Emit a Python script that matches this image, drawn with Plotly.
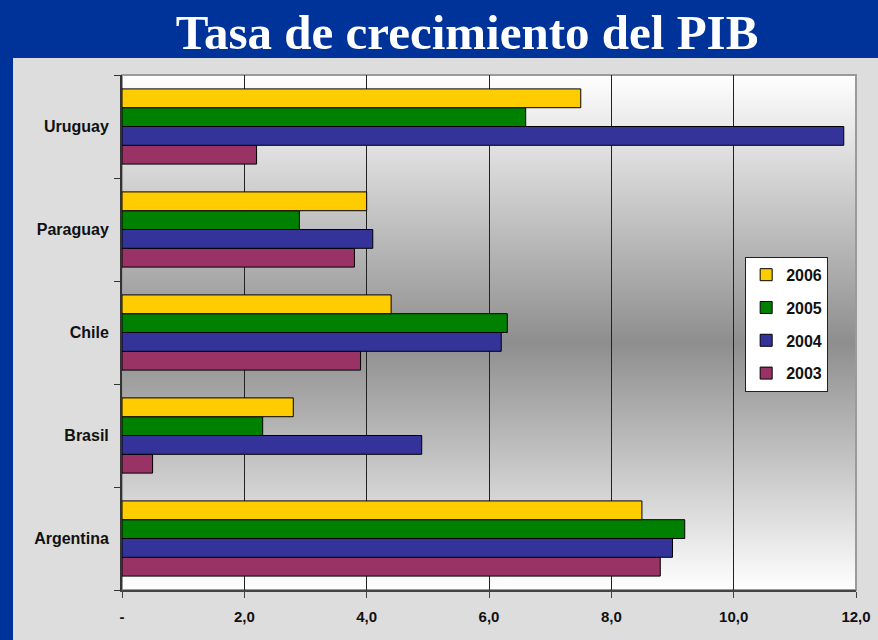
import base64
import plotly.graph_objects as go

# data
countries = ["Argentina", "Brasil", "Chile", "Paraguay", "Uruguay"]
years = ["2003", "2004", "2005", "2006"]
pib_2003 = [8.8, 0.5, 3.9, 3.8, 2.2]
pib_2004 = [9.0, 4.9, 6.2, 4.1, 11.8]
pib_2005 = [9.2, 2.3, 6.3, 2.9, 6.6]
pib_2006 = [8.5, 2.8, 4.4, 4.0, 7.5]
x_tickvals = [0, 2, 4, 6, 8, 10, 12]
x_ticktext = ["-", "2,0", "4,0", "6,0", "8,0", "10,0", "12,0"]

series = [pib_2003, pib_2004, pib_2005, pib_2006]
colors = ["#993366", "#333399", "#008000", "#FFCC00"]

fig = go.Figure()
for i, (year, vals, col) in enumerate(zip(years, series, colors)):
    fig.add_trace(go.Bar(
        y=countries, x=vals, name=year, orientation="h",
        legendgroup=year, legendrank=10 - i,
        marker=dict(color=col, line=dict(color="black", width=1)),
    ))

# vertical grey gradient behind the bars
svg = (
    '<svg xmlns="http://www.w3.org/2000/svg" width="100" height="100" preserveAspectRatio="none">'
    '<defs><linearGradient id="g" x1="0" y1="0" x2="0" y2="1">'
    '<stop offset="0" stop-color="#ffffff"/>'
    '<stop offset="0.52" stop-color="#8e8e8e"/>'
    '<stop offset="1" stop-color="#ffffff"/>'
    '</linearGradient></defs>'
    '<rect width="100" height="100" fill="url(#g)"/></svg>'
)
svg_uri = "data:image/svg+xml;base64," + base64.b64encode(svg.encode()).decode()
fig.add_layout_image(dict(
    source=svg_uri, xref="paper", yref="paper", x=0, y=1,
    sizex=1, sizey=1, xanchor="left", yanchor="top",
    sizing="stretch", layer="below",
))

blue = "#003399"
# blue frame on top and left of the slide
fig.add_shape(type="rect", xref="paper", yref="paper",
              x0=-0.2, x1=1.1, y0=1.033, y1=1.3,
              fillcolor=blue, line_width=0, layer="below")
fig.add_shape(type="rect", xref="paper", yref="paper",
              x0=-0.2, x1=-0.1485, y0=-0.2, y1=1.3,
              fillcolor=blue, line_width=0, layer="below")
# grey border round the plot area
fig.add_shape(type="rect", xref="paper", yref="paper",
              x0=0, x1=1, y0=0, y1=1,
              line=dict(color="#9a9a9a", width=2), layer="below")

fig.update_layout(
    width=878, height=640,
    margin=dict(l=122, r=22, t=75, b=50),
    paper_bgcolor="#dddddd",
    plot_bgcolor="rgba(0,0,0,0)",
    barmode="group",
    bargap=0.27,
    bargroupgap=0,
    title=dict(
        text="<b>Tasa de crecimiento del PIB</b>",
        x=0.532, xanchor="center", xref="container",
        y=0.95, yanchor="middle", yref="container",
        font=dict(family="Liberation Serif, Times New Roman, serif", size=49, color="white"),
    ),
    font=dict(family="Liberation Sans, Arial, sans-serif", color="#111111"),
    legend=dict(
        x=0.849, y=0.647, xanchor="left", yanchor="top",
        bgcolor="white", bordercolor="#222222", borderwidth=1,
        traceorder="grouped", tracegroupgap=9,
        font=dict(size=16, family="Liberation Sans, Arial, sans-serif", color="#111111", weight="bold"),
    ),
    showlegend=True,
)

fig.update_xaxes(
    range=[0, 12], tickvals=x_tickvals, ticktext=x_ticktext,
    showgrid=True, gridcolor="#222222", gridwidth=1,
    showline=True, linecolor="#444444", linewidth=2,
    ticks="outside", ticklen=6, tickcolor="#444444",
    tickfont=dict(size=15, weight="bold"), ticklabelstandoff=6,
    zeroline=False, fixedrange=True, automargin=False,
)
fig.update_yaxes(
    type="category", categoryorder="array", categoryarray=countries,
    showgrid=False, showline=True, linecolor="#333333", linewidth=2,
    ticks="outside", ticklen=6, tickcolor="#333333", tickson="boundaries",
    tickfont=dict(size=16, weight="bold"), ticklabelstandoff=8,
    fixedrange=True, automargin=False,
)

# drop the page's default body margin so the slide starts at the corner
fig.write_html("out.html", config={"displayModeBar": False},
               post_script="document.body.style.margin='0';")
